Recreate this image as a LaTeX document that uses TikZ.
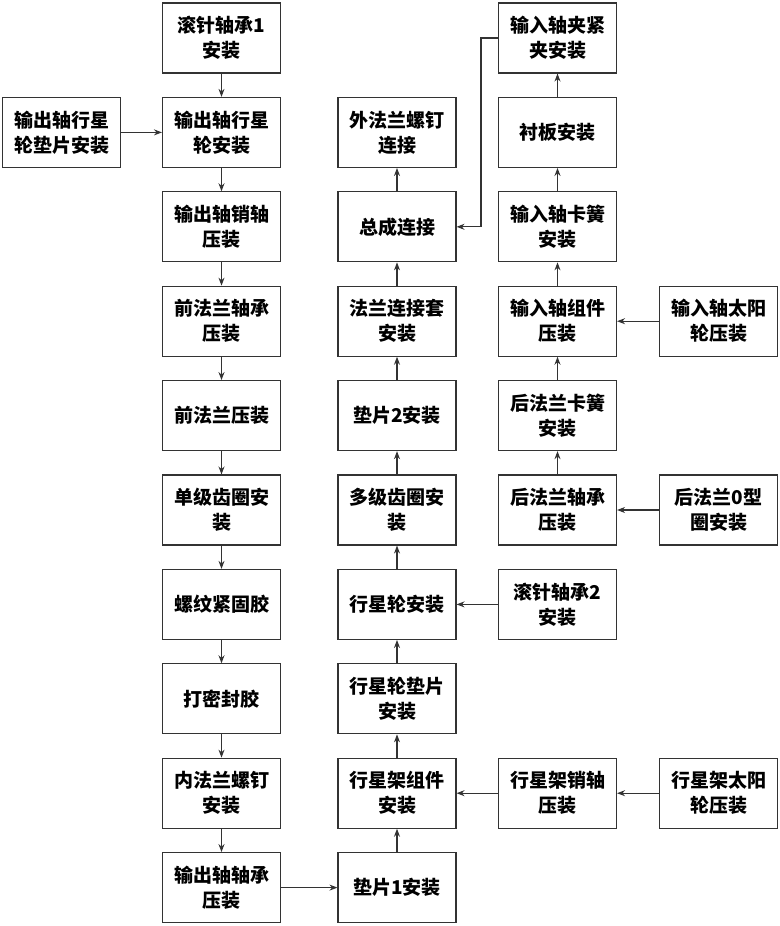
\documentclass[tikz,border=0pt]{standalone}
\usepackage{fontspec}
\newfontfamily\cjk{Noto Sans CJK SC}
\usetikzlibrary{arrows.meta}

\tikzset{
  stepbox/.style={draw=black!80, line width=1.1pt, minimum width=118pt, minimum height=70pt,
    inner sep=0pt, align=center, font=\cjk\bfseries\fontsize{19pt}{25pt}\selectfont},
  flow/.style={draw=black!80, line width=1.1pt, -{Stealth[length=8pt,width=6pt]}}
}

\begin{document}
\begin{tikzpicture}[x=1pt, y=-1pt]
    \useasboundingbox (0,0) rectangle (779,926);

    % colonna sinistra: linea di uscita
    \node[stepbox] (gz1)  at (221.5, 38)    {滚针轴承1\\安装};
    \node[stepbox] (scxl) at (221.5, 132.4) {输出轴行星\\轮安装};
    \node[stepbox] (scxz) at (221.5, 226.8) {输出轴销轴\\压装};
    \node[stepbox] (qfzc) at (221.5, 321.2) {前法兰轴承\\压装};
    \node[stepbox] (qfyz) at (221.5, 415.6) {前法兰压装};
    \node[stepbox] (djcq) at (221.5, 510)   {单级齿圈安\\装};
    \node[stepbox] (lwj)  at (221.5, 604.4) {螺纹紧固胶};
    \node[stepbox] (dmf)  at (221.5, 698.8) {打密封胶};
    \node[stepbox] (nflg) at (221.5, 793.2) {内法兰螺钉\\安装};
    \node[stepbox] (sczc) at (221.5, 887.6) {输出轴轴承\\压装};
    \node[stepbox] (scdp) at (61.5, 132.4)  {输出轴行星\\轮垫片安装};

    % colonna centrale: assemblaggio
    \node[stepbox] (wflg) at (397, 132.4) {外法兰螺钉\\连接};
    \node[stepbox] (zclj) at (397, 226.8) {总成连接};
    \node[stepbox] (fllt) at (397, 321.2) {法兰连接套\\安装};
    \node[stepbox] (dp2)  at (397, 415.6) {垫片2安装};
    \node[stepbox] (djcm) at (397, 510)   {多级齿圈安\\装};
    \node[stepbox] (xxl)  at (397, 604.4) {行星轮安装};
    \node[stepbox] (xxdp) at (397, 698.8) {行星轮垫片\\安装};
    \node[stepbox] (xjzj) at (397, 793.2) {行星架组件\\安装};
    \node[stepbox] (dp1)  at (397, 887.6) {垫片1安装};

    % colonna destra: linea di ingresso
    \node[stepbox] (srjj) at (557.5, 38)    {输入轴夹紧\\夹安装};
    \node[stepbox] (cb)   at (557.5, 132.4) {衬板安装};
    \node[stepbox] (srkh) at (557.5, 226.8) {输入轴卡簧\\安装};
    \node[stepbox] (srzj) at (557.5, 321.2) {输入轴组件\\压装};
    \node[stepbox] (hfkh) at (557.5, 415.6) {后法兰卡簧\\安装};
    \node[stepbox] (hfzc) at (557.5, 510)   {后法兰轴承\\压装};
    \node[stepbox] (gz2)  at (557.5, 604.4) {滚针轴承2\\安装};
    \node[stepbox] (xjxz) at (557.5, 793.2) {行星架销轴\\压装};
    \node[stepbox] (srty) at (718.5, 321.2) {输入轴太阳\\轮压装};
    \node[stepbox] (hfo)  at (718.5, 510)   {后法兰0型\\圈安装};
    \node[stepbox] (xjty) at (718.5, 793.2) {行星架太阳\\轮压装};

    % frecce verso il basso
    \foreach \a/\b in {gz1/scxl, scxl/scxz, scxz/qfzc, qfzc/qfyz, qfyz/djcq,
                       djcq/lwj, lwj/dmf, dmf/nflg, nflg/sczc}
        \draw[flow] (\a) -- (\b);

    % frecce verso l'alto
    \foreach \a/\b in {dp1/xjzj, xjzj/xxdp, xxdp/xxl, xxl/djcm, djcm/dp2, dp2/fllt,
                       fllt/zclj, zclj/wflg, hfzc/hfkh, hfkh/srzj, srzj/srkh,
                       srkh/cb, cb/srjj}
        \draw[flow] (\a) -- (\b);

    % frecce orizzontali
    \foreach \a/\b in {scdp/scxl, sczc/dp1, gz2/xxl, xjxz/xjzj, xjty/xjxz,
                       srty/srzj, hfo/hfzc}
        \draw[flow] (\a) -- (\b);

    % ritorno al collegamento finale
    \coordinate (gomito) at (481, 38);
    \draw[flow] (srjj.west) -- (gomito) |- (zclj.east);

\end{tikzpicture}
\end{document}
